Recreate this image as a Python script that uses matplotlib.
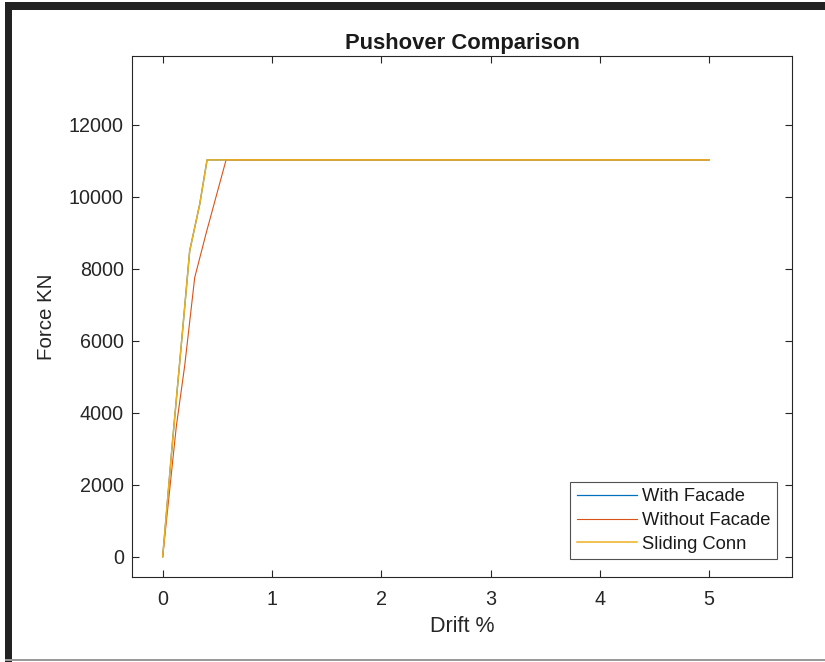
import matplotlib
matplotlib.use("Agg")
import matplotlib.pyplot as plt
from matplotlib.patches import Rectangle

plt.rcParams['font.family'] = ['Liberation Sans', 'DejaVu Sans']

# Data (drift %, force kN)
with_facade_x = [0.0, 0.089, 0.186, 0.247, 0.339, 0.406, 5.0]
with_facade_y = [0, 3170, 6420, 8500, 9800, 11030, 11030]
without_facade_x = [0.0, 0.125, 0.201, 0.293, 0.40, 0.58, 5.0]
without_facade_y = [0, 3630, 5300, 7760, 9020, 11030, 11030]
sliding_x = [0.0, 0.089, 0.186, 0.247, 0.339, 0.406, 5.0]
sliding_y = [0, 3170, 6420, 8500, 9800, 11030, 11030]

series_labels = ['With Facade', 'Without Facade', 'Sliding Conn']
x_ticks = [0, 1, 2, 3, 4, 5]
y_ticks = [0, 2000, 4000, 6000, 8000, 10000, 12000]

colors = ['#0072BD', '#D95319', '#EDB120']

W, H = 825, 662
fig = plt.figure(figsize=(W / 100, H / 100), dpi=100)
fig.patch.set_facecolor('white')

# screenshot frame
fig.patches.append(Rectangle((5 / W, 0), 7 / W, 1 - 2 / H, transform=fig.transFigure,
                             facecolor='#222222', edgecolor='none', zorder=0))
fig.patches.append(Rectangle((5 / W, 1 - 10 / H), 1, 8 / H, transform=fig.transFigure,
                             facecolor='#222222', edgecolor='none', zorder=0))
fig.patches.append(Rectangle((5 / W, 1 - 661 / H), 1, 2.5 / H, transform=fig.transFigure,
                             facecolor='#9a9a9a', edgecolor='none', zorder=0))

left, right, top, bottom = 132.3, 792.3, 55.7, 577.3
ax = fig.add_axes([left / W, 1 - bottom / H, (right - left) / W, (bottom - top) / H])

ax.plot(with_facade_x, with_facade_y, color=colors[0], lw=0.9, label=series_labels[0])
ax.plot(without_facade_x, without_facade_y, color=colors[1], lw=0.8, label=series_labels[1])
ax.plot(sliding_x, sliding_y, color=colors[2], lw=1.1, label=series_labels[2])

ax.set_xlim(-0.278, 5.76)
ax.set_ylim(-573, 13926)
ax.set_xticks(x_ticks)
ax.set_yticks(y_ticks)
ax.set_xticklabels([str(t) for t in x_ticks])
ax.set_yticklabels([str(t) for t in y_ticks])

for s in ax.spines.values():
    s.set_color('#262626')
    s.set_linewidth(0.8)
ax.tick_params(direction='in', top=True, right=True, length=5, width=0.8,
               colors='#262626', labelsize=14.2)
ax.tick_params(axis='x', pad=9)
ax.tick_params(axis='y', pad=6)

ax.set_title('Pushover Comparison', fontsize=15.8, fontweight='bold', color='#1a1a1a', pad=5)
ax.set_xlabel('Drift %', fontsize=15.5, color='#262626', labelpad=5)
ax.set_ylabel('Force KN', fontsize=14.8, color='#262626', labelpad=9)

leg = ax.legend(loc='lower right', bbox_to_anchor=(0.9768, 0.0351), fontsize=13.2,
                frameon=True, fancybox=False, edgecolor='#262626',
                handlelength=3.3, handletextpad=0.27,
                labelspacing=0.36, borderpad=0.35, borderaxespad=0.0)
leg.get_frame().set_linewidth(0.8)
for t in leg.get_texts():
    t.set_color('#1a1a1a')

fig.savefig('out.png', dpi=100)
